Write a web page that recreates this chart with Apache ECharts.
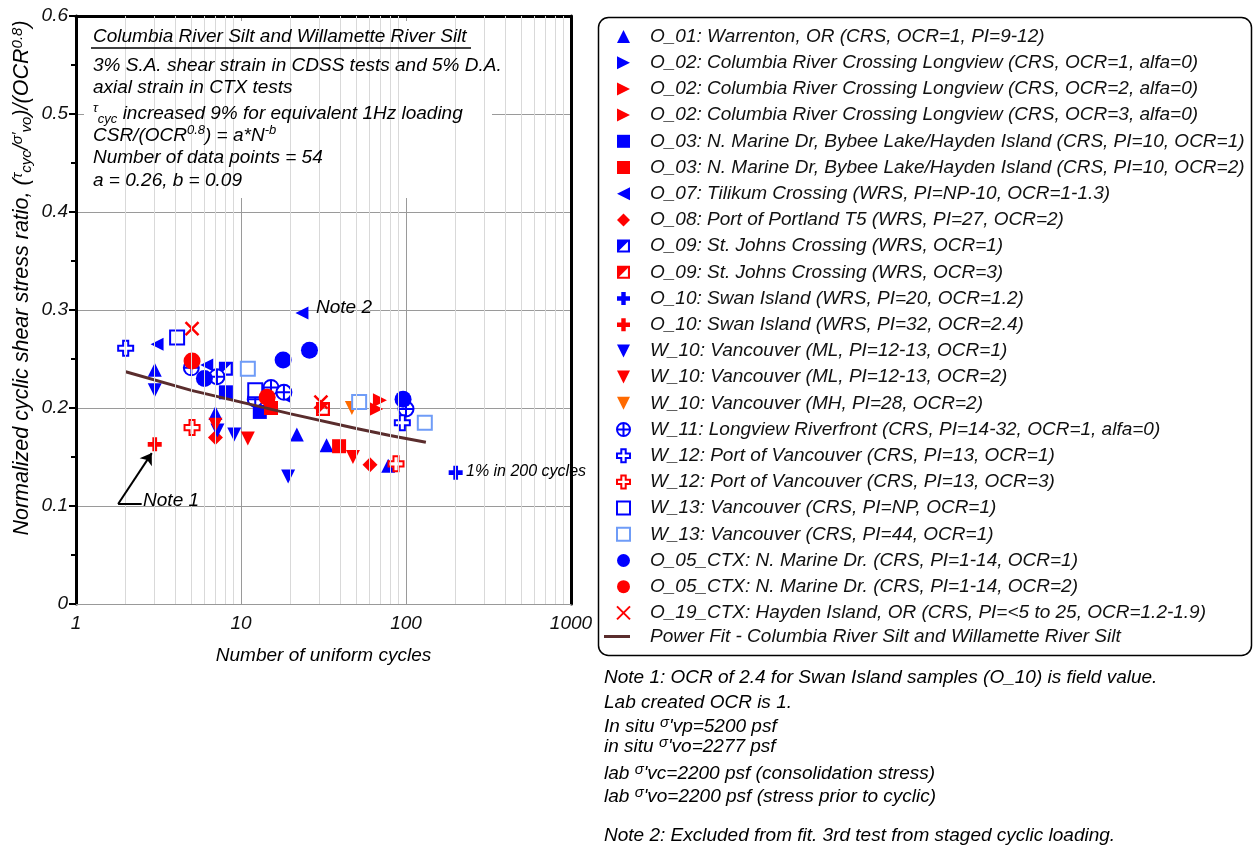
<!DOCTYPE html>
<html>
<head>
<meta charset="utf-8">
<script src="https://cdn.jsdelivr.net/npm/echarts/dist/echarts.min.js"></script>
<style>html,body{margin:0;background:#fff}#chart-panel{width:1254px;height:848px}</style>
</head>
<body>
<div id="chart-panel"></div>
<script>
var FONT = 'Liberation Sans, Arial, sans-serif';

// power fit
var fitData = [[2, 0.237], [5, 0.218], [10, 0.206], [20, 0.194], [50, 0.179], [80, 0.172], [132, 0.165]];

// test data (N, CSR/OCR^0.8)
var o01 = [[3, 0.239], [7, 0.195], [21.8, 0.173], [33, 0.162], [78, 0.141]];
var o02a = [];
var o02b = [[69.5, 0.208]];
var o02c = [[66, 0.199]];
var o03a = [[8.1, 0.216], [13, 0.196]];
var o03b = [[15.2, 0.2], [39.3, 0.161]];
var o07 = [[3.1, 0.265], [6.2, 0.244], [23.4, 0.297], [18.2, 0.212]];
var o08 = [[7, 0.170], [60.5, 0.142]];
var o09a = [[8.1, 0.240]];
var o09b = [[31.4, 0.199]];
var o10a = [[200, 0.134]];
var o10b = [[3, 0.163]];
var w10a = [[3, 0.218], [7.2, 0.177], [9.1, 0.173], [19.3, 0.13]];
var w10b = [[7, 0.183], [11, 0.169], [47.7, 0.150]];
var w10c = [[47, 0.2]];
var w11 = [[5, 0.241], [7.15, 0.232], [12.2, 0.209], [15.2, 0.221], [18.2, 0.216], [100, 0.199]];
var w12a = [[2, 0.261], [95, 0.185]];
var w12b = [[5.05, 0.180], [87, 0.143]];
var w13a = [[4.1, 0.272], [12.2, 0.218]];
var w13b = [[11, 0.240], [52, 0.206], [130, 0.185]];
var o05a = [[6, 0.230], [18, 0.249], [26, 0.259], [96, 0.209]];
var o05b = [[5.05, 0.248], [14.4, 0.211]];
var o19 = [[5.05, 0.281], [30.5, 0.206]];

var BLUE = '#0000ff', RED = '#ff0000', ORANGE = '#ff6a00', LIGHT = '#6f9cf7';
var SYM = {
    up: 'triangle',
    right: 'path://M0,0L10,5L0,10Z',
    left: 'path://M10,0L0,5L10,10Z',
    down: 'path://M0,0L10,0L5,10Z',
    half: 'path://M0,0L10,0L10,10L0,10Z M1.6,1.6L1.6,8.4L8.4,8.4L8.4,1.6Z M1.6,1.6L8.4,1.6L1.6,8.4Z',
    plus: 'path://M3.3,0L6.7,0L6.7,3.3L10,3.3L10,6.7L6.7,6.7L6.7,10L3.3,10L3.3,6.7L0,6.7L0,3.3L3.3,3.3Z',
    oplus: 'path://M0,10A10,10 0 1,1 20,10A10,10 0 1,1 0,10Z M0,10L20,10 M10,0L10,20',
    rect: 'rect',
    circle: 'circle',
    diamond: 'diamond',
    cross: 'path://M0,0L10,10 M10,0L0,10'
};

// name, data, symbol, size, colour, style (f = filled, o = outline, x = stroke only)
var specs = [
    ['O_01: Warrenton, OR (CRS, OCR=1, PI=9-12)', o01, 'up', 14, BLUE, 'f'],
    ['O_02: Columbia River Crossing Longview (CRS, OCR=1, alfa=0)', o02a, 'right', 14, BLUE, 'f'],
    ['O_02: Columbia River Crossing Longview (CRS, OCR=2, alfa=0)', o02b, 'right', 14, RED, 'f'],
    ['O_02: Columbia River Crossing Longview (CRS, OCR=3, alfa=0)', o02c, 'right', 14, RED, 'f'],
    ['O_03: N. Marine Dr, Bybee Lake/Hayden Island (CRS, PI=10, OCR=1)', o03a, 'rect', 14, BLUE, 'f'],
    ['O_03: N. Marine Dr, Bybee Lake/Hayden Island (CRS, PI=10, OCR=2)', o03b, 'rect', 14, RED, 'f'],
    ['O_07: Tilikum Crossing (WRS, PI=NP-10, OCR=1-1.3)', o07, 'left', 13, BLUE, 'f'],
    ['O_08: Port of Portland T5 (WRS, PI=27, OCR=2)', o08, 'diamond', 15, RED, 'f'],
    ['O_09: St. Johns Crossing (WRS, OCR=1)', o09a, 'half', 14, BLUE, 'f'],
    ['O_09: St. Johns Crossing (WRS, OCR=3)', o09b, 'half', 14, RED, 'f'],
    ['O_10: Swan Island (WRS, PI=20, OCR=1.2)', o10a, 'plus', 14, BLUE, 'f'],
    ['O_10: Swan Island (WRS, PI=32, OCR=2.4)', o10b, 'plus', 14, RED, 'f'],
    ['W_10: Vancouver (ML, PI=12-13, OCR=1)', w10a, 'down', 14, BLUE, 'f'],
    ['W_10: Vancouver (ML, PI=12-13, OCR=2)', w10b, 'down', 14, RED, 'f'],
    ['W_10: Vancouver (MH, PI=28, OCR=2)', w10c, 'down', 14, ORANGE, 'f'],
    ['W_11: Longview Riverfront (CRS, PI=14-32, OCR=1, alfa=0)', w11, 'oplus', 15, BLUE, 'o'],
    ['W_12: Port of Vancouver (CRS, PI=13, OCR=1)', w12a, 'plus', 15, BLUE, 'o'],
    ['W_12: Port of Vancouver (CRS, PI=13, OCR=3)', w12b, 'plus', 15, RED, 'o'],
    ['W_13: Vancouver (CRS, PI=NP, OCR=1)', w13a, 'rect', 14, BLUE, 'o'],
    ['W_13: Vancouver (CRS, PI=44, OCR=1)', w13b, 'rect', 14, LIGHT, 'o'],
    ['O_05_CTX: N. Marine Dr. (CRS, PI=1-14, OCR=1)', o05a, 'circle', 17, BLUE, 'f'],
    ['O_05_CTX: N. Marine Dr. (CRS, PI=1-14, OCR=2)', o05b, 'circle', 17, RED, 'f'],
    ['O_19_CTX: Hayden Island, OR (CRS, PI=<5 to 25, OCR=1.2-1.9)', o19, 'cross', 13, RED, 'x']
];
var fitName = 'Power Fit - Columbia River Silt and Willamette River Silt';

var minorX = [];
[1, 10, 100].forEach(function (d) {
    for (var k = 2; k <= 9; k++) minorX.push({ xAxis: k * d });
});

var series = [{
    type: 'line', data: [], silent: true,
    markLine: {
        silent: true, symbol: 'none', label: { show: false },
        lineStyle: { color: '#d9d9d9', width: 1, type: 'solid' },
        data: minorX
    }
}];

specs.forEach(function (s) {
    var st;
    if (s[5] === 'f') st = { color: s[4], opacity: 1 };
    else if (s[5] === 'o') st = { color: '#fff', borderColor: s[4], borderWidth: 2, opacity: 1 };
    else st = { color: 'rgba(0,0,0,0)', borderColor: s[4], borderWidth: 2.5, opacity: 1 };
    series.push({
        name: s[0], type: 'scatter', data: s[1],
        symbol: SYM[s[2]], symbolSize: s[3],
        itemStyle: st, emphasis: { disabled: true }
    });
});

series.push({
    name: fitName, type: 'line', data: fitData, symbol: 'none',
    lineStyle: { color: '#5a2d2d', width: 3 }, itemStyle: { color: '#5a2d2d' },
    markLine: {
        silent: true, symbol: 'none', label: { show: false },
        lineStyle: { color: '#000', width: 2, type: 'solid' },
        data: [
            [{ coord: [1.8, 0.102], symbol: 'none' }, { coord: [2.88, 0.154], symbol: 'arrow', symbolSize: 11 }],
            [{ coord: [1.8, 0.102] }, { coord: [2.5, 0.102] }]
        ]
    },
    markPoint: {
        symbol: 'circle', symbolSize: 0, silent: true,
        label: {
            show: true, position: 'right', distance: 0, color: '#000',
            fontFamily: FONT, fontStyle: 'italic', fontSize: 19
        },
        data: [
            { coord: [2.55, 0.105], label: { formatter: 'Note 1' } },
            { coord: [28.5, 0.302], label: { formatter: 'Note 2' } },
            { coord: [231, 0.135], label: { formatter: '1% in 200 cycles', fontSize: 16 } }
        ]
    }
});

var txt = { fill: '#000', fontFamily: FONT, fontStyle: 'italic', fontSize: 19 };
function rich(big, small) {
    return {
        n: { fontFamily: FONT, fontStyle: 'italic', fontSize: big, lineHeight: 24, fill: '#000' },
        sup: { fontFamily: FONT, fontStyle: 'italic', fontSize: small, lineHeight: small, verticalAlign: 'top', fill: '#000' },
        sub: { fontFamily: FONT, fontStyle: 'italic', fontSize: small, lineHeight: small, verticalAlign: 'bottom', fill: '#000' }
    };
}
function line(x, y, t, small) {
    var style = Object.assign({ text: t, x: 0, y: 0, verticalAlign: 'middle' }, txt);
    if (small) style.rich = rich(19, small);
    return { type: 'text', x: x, y: y, style: style, z: 10 };
}

var graphic = [
    { type: 'rect', shape: { x: 598.5, y: 17.5, width: 653, height: 638, r: 10 },
      style: { fill: 'none', stroke: '#000', lineWidth: 1.5 } },
    { type: 'rect', shape: { x: 84, y: 21, width: 408, height: 177 },
      style: { fill: '#fff' }, z: 5 },
    line(93, 37, 'Columbia River Silt and Willamette River Silt'),
    { type: 'line', shape: { x1: 91, y1: 48, x2: 471, y2: 48 }, style: { stroke: '#000', lineWidth: 1.5 }, z: 10 },
    line(93, 66, '3% S.A. shear strain in CDSS tests and 5% D.A.'),
    line(93, 88, 'axial strain in CTX tests'),
    line(93, 114, '{sup|τ}{sub|cyc}{n| increased 9% for equivalent 1Hz loading}', 13),
    line(93, 136, '{n|CSR/(OCR}{sup|0.8}{n|) = a*N}{sup|-b}', 13),
    line(93, 158, 'Number of data points = 54'),
    line(93, 181, 'a = 0.26, b = 0.09'),
    { type: 'text', x: 22, y: 278, rotation: Math.PI / 2, z: 10,
      style: { text: '{n|Normalized cyclic shear stress ratio, (}{sup|τ}{sub|cyc}{n|/}{sup|σ\u2032}{sub|vo}{n|)/(OCR}{sup|0.8}{n|)}',
               x: 0, y: 0, align: 'center', verticalAlign: 'middle', rich: rich(21.5, 15) } },
    line(604, 678, 'Note 1: OCR of 2.4 for Swan Island samples (O_10) is field value.'),
    line(604, 703, 'Lab created OCR is 1.'),
    line(604, 727, '{n|In situ }{sup|σ}{n|\'vp=5200 psf}', 15),
    line(604, 747, '{n|in situ }{sup|σ}{n|\'vo=2277 psf}', 15),
    line(604, 774, '{n|lab }{sup|σ}{n|\'vc=2200 psf (consolidation stress)}', 15),
    line(604, 797, '{n|lab }{sup|σ}{n|\'vo=2200 psf (stress prior to cyclic)}', 15),
    line(604, 836, 'Note 2: Excluded from fit. 3rd test from staged cyclic loading.')
];

var labelFont = { fontFamily: FONT, fontStyle: 'italic', fontSize: 19, color: '#111' };

var myChart = echarts.init(document.getElementById('chart-panel'));
myChart.setOption({
    animation: false,
    backgroundColor: '#fff',
    grid: { left: 76, right: 683, top: 16, bottom: 244 },
    legend: [{
        orient: 'vertical', left: 611, top: 22,
        itemWidth: 13, itemHeight: 13, itemGap: 7.2,
        selectedMode: false,
        data: specs.map(function (s) { return s[0]; }),
        textStyle: Object.assign({ color: '#000', lineHeight: 13, padding: [0, 0, 0, 15] }, labelFont)
    }, {
        orient: 'vertical', left: 599, top: 622,
        itemWidth: 26, itemHeight: 3, icon: 'rect', selectedMode: false,
        data: [fitName],
        textStyle: Object.assign({ color: '#000', lineHeight: 13, padding: [0, 0, 0, 15] }, labelFont)
    }],
    xAxis: [{
        type: 'log', logBase: 10, min: 1, max: 1000,
        axisLine: { show: true, onZero: false, lineStyle: { color: '#999', width: 1 } },
        axisTick: { show: false },
        axisLabel: Object.assign({ margin: 10, formatter: function (v) { return String(v); } }, labelFont),
        splitLine: { show: true, lineStyle: { color: '#9a9a9a', width: 1 } },
        name: 'Number of uniform cycles', nameLocation: 'middle', nameGap: 42,
        nameTextStyle: Object.assign({}, labelFont, { color: '#000' })
    }, {
        type: 'log', logBase: 10, min: 1, max: 1000, position: 'top',
        axisLine: { show: true, onZero: false, lineStyle: { color: '#000', width: 3 } },
        axisTick: { show: false }, axisLabel: { show: false }, splitLine: { show: false }
    }],
    yAxis: [{
        type: 'value', min: 0, max: 0.6, interval: 0.1,
        axisLine: { show: true, onZero: false, lineStyle: { color: '#000', width: 3 } },
        axisTick: { show: true, length: 7, lineStyle: { color: '#000', width: 2 } },
        minorTick: { show: true, splitNumber: 2, length: 5, lineStyle: { color: '#000', width: 2 } },
        axisLabel: Object.assign({ margin: 8 }, labelFont),
        splitLine: { show: true, lineStyle: { color: '#9a9a9a', width: 1 } }
    }, {
        type: 'value', min: 0, max: 0.6, position: 'right',
        axisLine: { show: true, onZero: false, lineStyle: { color: '#000', width: 3 } },
        axisTick: { show: false }, axisLabel: { show: false }, splitLine: { show: false }
    }],
    graphic: graphic,
    series: series
});
</script>
</body>
</html>
